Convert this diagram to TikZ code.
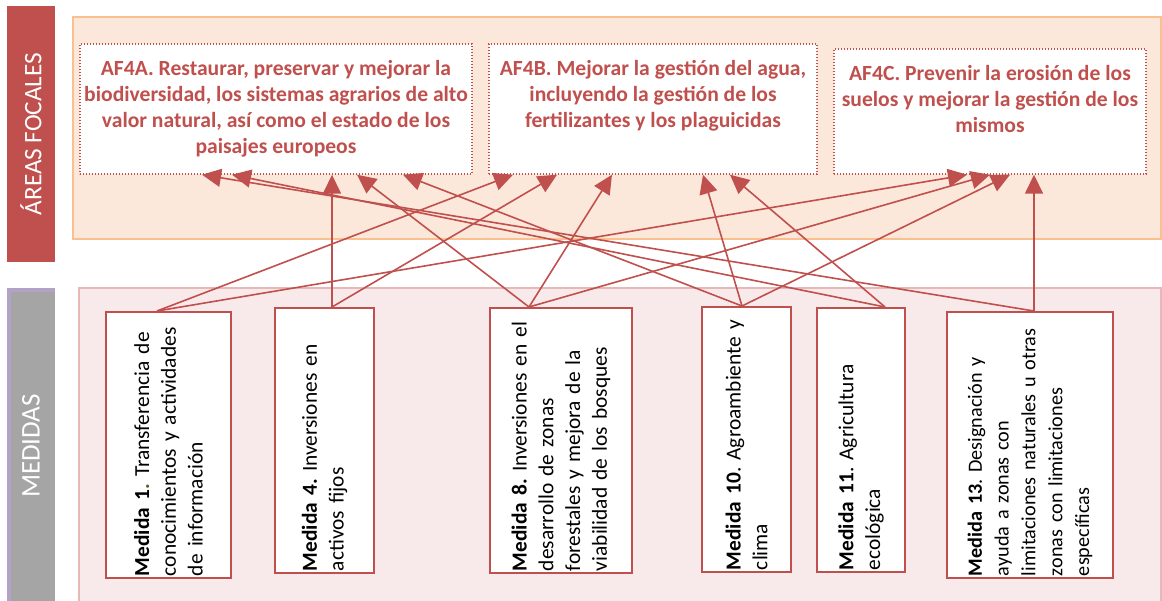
\documentclass[tikz,border=0pt]{standalone}
\usepackage{fontspec}
\setmainfont{Carlito}
\usetikzlibrary{calc,arrows.meta}
\frenchspacing

\definecolor{rojo}{HTML}{C0504D}
\definecolor{naranja}{HTML}{FAC090}
\definecolor{naranjaclaro}{HTML}{FCE8DA}
\definecolor{rosa}{HTML}{E6B9B8}
\definecolor{rosaclaro}{HTML}{F8EAEA}
\definecolor{lila}{HTML}{B3A2C7}
\definecolor{gris}{HTML}{A5A5A5}
\definecolor{verde}{HTML}{4F6228}

\def\medida#1{\textbf{Medida #1}}

\tikzset{
	afbox/.style={draw=rojo, line width=0.7pt, dash pattern=on 0.7pt off 0.8pt, fill=white, inner sep=0pt},
	aftext/.style={anchor=north, align=center, text=rojo, inner sep=0pt, font=\fontsize{10.8}{13}\selectfont\bfseries},
	medbox/.style={draw=rojo, line width=1pt, fill=white, rotate=90, align=left, inner xsep=1pt, inner ysep=0pt, font=\fontsize{10.7}{13.4}\selectfont},
	enlace/.style={draw=rojo, line width=0.8pt, -{Triangle[length=9.5pt,width=9pt]}},
	barra/.style={rotate=90, inner sep=0pt, text=white},
}

\begin{document}
\begin{tikzpicture}[x=0.5pt, y=-0.5pt]
			%%%%% START %%%%%
			\useasboundingbox (0,0) rectangle (1162,600);
			
			\draw[naranja, fill=naranjaclaro, line width=1pt] (73,17) rectangle (1161,239);
			\draw[rosa, fill=rosaclaro, line width=0.75pt] (79,288) rectangle (1161,604);
			
			\node[barra, fill=rojo, minimum width=128pt, minimum height=24pt, font=\fontsize{12.6}{15}\selectfont] (areas) at (31,134) {ÁREAS FOCALES};
			\node[barra, fill=gris, minimum width=157pt, minimum height=24pt, font=\fontsize{13.5}{16}\selectfont] (medidas) at (31,446) {MEDIDAS};
			\draw[lila, line width=2pt] (9,604) -- (9,290) -- (55,290);
			
			\node[afbox, minimum width=196pt, minimum height=65pt] (af4a) at (276,109) {};
			\node[aftext] (af4a-t) at ($(af4a.north)+(0,17)$) {AF4A. Restaurar, preservar y mejorar la\\biodiversidad, los sistemas agrarios de alto\\valor natural, así como el estado de los\\paisajes europeos};
			
			\node[afbox, minimum width=164pt, minimum height=65pt] (af4b) at (653,109) {};
			\node[aftext] (af4b-t) at ($(af4b.north)+(0,17)$) {AF4B. Mejorar la gestión del agua,\\incluyendo la gestión de los\\fertilizantes y los plaguicidas};
			
			\node[afbox, minimum width=156pt, minimum height=62.5pt] (af4c) at (990,111.5) {};
			\node[aftext] (af4c-t) at ($(af4c.north)+(0,17)$) {AF4C. Prevenir la erosión de los\\suelos y mejorar la gestión de los\\mismos};
			
			\node[medbox, minimum width=133pt, minimum height=62.5pt, text width=131pt] (m1) at (168.5,445) {\medida{1}\textcolor{verde}{\textbf{.}} Transferencia de\\conocimientos y actividades\\de información};
			\node[medbox, minimum width=132.5pt, minimum height=49.5pt, text width=130.5pt] (m4) at (324.5,440.5) {\medida{4.} Inversiones en\\activos fijos};
			\node[medbox, minimum width=132.5pt, minimum height=71pt, text width=130.5pt] (m8) at (561,440.5) {\medida{8.} Inversiones en el\\desarrollo de zonas\\forestales y mejora de la\\viabilidad de los bosques};
			\node[medbox, minimum width=132.5pt, minimum height=44.5pt, text width=130.5pt] (m10) at (746.5,439.5) {\medida{10}. Agroambiente y\\clima};
			\node[medbox, minimum width=132pt, minimum height=44pt, text width=130pt] (m11) at (861,440) {\medida{11}. Agricultura\\ecológica};
			\node[medbox, minimum width=133pt, minimum height=83pt, text width=131pt, font=\fontsize{10.1}{13.4}\selectfont] (m13) at (1030,445) {\medida{13}. Designación y\\ayuda a zonas con\\\mbox{limitaciones naturales u otras}\\zonas con limitaciones\\específicas};
			
			% hacia AF4A
			\draw[enlace] ($(m13.east)+(4,0)$) -- ($(af4a.south)+(-74,0)$);
			\draw[enlace] ($(m11.east)+(24,0)$) -- ($(af4a.south)+(-44,0)$);
			\draw[enlace] ($(m4.east)+(7.5,0)$) -- ($(af4a.south)+(56,0)$);
			\draw[enlace] ($(m8.east)+(-32,0)$) -- ($(af4a.south)+(81,0)$);
			\draw[enlace] ($(m10.east)+(-4.5,0)$) -- ($(af4a.south)+(127,0)$);
			
			% hacia AF4B
			\draw[enlace] ($(m1.east)+(-11.5,0)$) -- ($(af4b.south)+(-140,0)$);
			\draw[enlace] ($(m4.east)+(7.5,0)$) -- ($(af4b.south)+(-96,0)$);
			\draw[enlace] ($(m8.east)+(-32,0)$) -- ($(af4b.south)+(-41,0)$);
			\draw[enlace] ($(m10.east)+(-4.5,0)$) -- ($(af4b.south)+(50,0)$);
			\draw[enlace] ($(m11.east)+(24,0)$) -- ($(af4b.south)+(77,0)$);
			
			% hacia AF4C
			\draw[enlace] ($(m1.east)+(-11.5,0)$) -- ($(af4c.south)+(-23,0)$);
			\draw[enlace] ($(m8.east)+(-32,0)$) -- ($(af4c.south)+(0,0)$);
			\draw[enlace] ($(m10.east)+(-4.5,0)$) -- ($(af4c.south)+(20,0)$);
			\draw[enlace] ($(m13.east)+(4,0)$) -- ($(af4c.south)+(44,0)$);
			
			%%%%% END %%%%%
\end{tikzpicture}
\end{document}
